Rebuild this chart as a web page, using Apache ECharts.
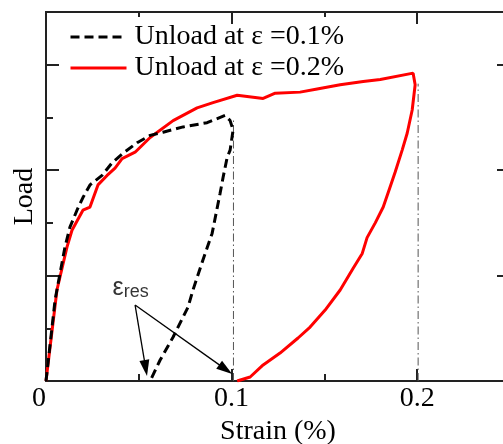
<!DOCTYPE html>
<html><head><meta charset="utf-8">
<script src="https://cdn.jsdelivr.net/npm/echarts@6/dist/echarts.min.js"></script>
<style>html,body{margin:0;padding:0;background:#fff}#c{width:503px;height:444px}</style>
</head><body><div id="c"></div>
<script>
// ---- data ----
const seriesNames = ['Unload at \u03b5 =0.1%', 'Unload at \u03b5 =0.2%'];
const strain01 = [0, 0.0049, 0.0102, 0.0129, 0.0167, 0.0199, 0.0237, 0.0302, 0.0356, 0.0415, 0.0491, 0.0561, 0.0631, 0.0739, 0.0868, 0.0965, 0.0992, 0.1008,
                  0.0992, 0.0976, 0.0954, 0.0938, 0.0895, 0.0846, 0.0792, 0.0765, 0.0685, 0.0615, 0.0561];
const load01   = [0, 0.77, 1.27, 1.46, 1.62, 1.74, 1.86, 1.95, 2.07, 2.16, 2.26, 2.33, 2.36, 2.41, 2.45, 2.52, 2.47, 2.38,
                  2.19, 2.12, 1.93, 1.78, 1.40, 1.15, 0.863, 0.70, 0.417, 0.199, 0.0];
const strain02 = [0, 0.0059, 0.0113, 0.0140, 0.0199, 0.0237, 0.0280, 0.0329, 0.0372, 0.0410, 0.0480, 0.0561, 0.0685, 0.0814, 0.0900, 0.1030, 0.1170, 0.1235, 0.1369, 0.1461, 0.1585, 0.1709, 0.1801, 0.1978,
                  0.1989, 0.1973, 0.1946, 0.1919, 0.1881, 0.1854, 0.1817, 0.1774, 0.1730, 0.1704, 0.1655, 0.1585, 0.1504, 0.1423, 0.1358, 0.1261, 0.1170, 0.1100, 0.1030];
const load02   = [0, 0.863, 1.27, 1.43, 1.62, 1.65, 1.86, 1.95, 2.02, 2.11, 2.17, 2.31, 2.47, 2.59, 2.64, 2.71, 2.68, 2.73, 2.74, 2.77, 2.81, 2.84, 2.86, 2.92,
                  2.81, 2.57, 2.35, 2.19, 1.98, 1.84, 1.65, 1.50, 1.36, 1.21, 1.07, 0.863, 0.673, 0.512, 0.408, 0.265, 0.152, 0.038, 0];
const xTickLabels = ['0', '0.1', '0.2'];
const guideStrain = [0.101, 0.2005];
const guideTop = [2.49, 2.82];
const annotText = ['\u03b5', 'res'];
const annotPos = [0.0456, 0.88];
const arrowStart = [0.048, 0.72];
const arrowEnds = [[0.0537, 0.123], [0.0968, 0.110]];

// ---- chart ----
const SERIF = 'Liberation Serif';
const FS = 28;
const AX = '#222';
const zip = (a, b) => a.map((v, i) => [v, b[i]]);

function xAx(pos, interval, len, labels) {
  return {
    type: 'value', position: pos, min: 0, max: 0.25, interval: interval,
    axisLine: { show: labels !== undefined, onZero: false, lineStyle: { color: AX, width: 2 } },
    axisTick: { show: true, inside: true, length: len, lineStyle: { color: AX, width: 2 } },
    axisLabel: labels ? {
      show: true, margin: 4, color: '#000', fontFamily: SERIF, fontSize: FS,
      formatter: v => { const s = String(+(+v).toFixed(3)); return xTickLabels.includes(s) ? (s === '0' ? '{z|0}' : s) : ''; },
      rich: { z: { fontFamily: SERIF, fontSize: FS, color: '#000', padding: [0, 14, 0, 0] } }
    } : { show: false },
    splitLine: { show: false }
  };
}
function yAx(pos, interval, len) {
  return {
    type: 'value', position: pos, min: 0, max: 3.5, interval: interval,
    axisLine: { show: true, onZero: false, lineStyle: { color: AX, width: 2 } },
    axisTick: { show: true, inside: true, length: len, lineStyle: { color: AX, width: 2 } },
    axisLabel: { show: false }, splitLine: { show: false }
  };
}

const xAxes = [xAx('bottom', 0.05, 7, true), xAx('bottom', 0.1, 12), xAx('top', 0.05, 5, true), xAx('top', 0.1, 12)];
xAxes[2].axisLabel = { show: false };
xAxes[0].name = 'Strain (%)';
xAxes[0].nameLocation = 'middle';
xAxes[0].nameGap = 35;
xAxes[0].nameTextStyle = { fontFamily: SERIF, fontSize: FS, color: '#000' };
const yAxes = [yAx('left', 0.5, 7), yAx('left', 1, 13), yAx('right', 0.5, 7), yAx('right', 1, 13)];
yAxes[0].name = 'Load';
yAxes[0].nameLocation = 'middle';
yAxes[0].nameGap = 7;
yAxes[0].nameRotate = 90;
yAxes[0].nameTextStyle = { fontFamily: SERIF, fontSize: FS, color: '#000' };

const guideSeries = guideStrain.map((x, i) => ({
  type: 'line', name: 'guide' + i, silent: true, symbol: 'none', z: 1,
  data: [[x, 0], [x, guideTop[i]]],
  lineStyle: { color: '#555', width: 1, type: [8, 3, 1.5, 3] }
}));

const option = {
  animation: false,
  backgroundColor: '#fff',
  grid: { left: 46, top: 12, width: 464, height: 369, containLabel: false, outerBoundsMode: 'none' },
  legend: {
    data: seriesNames, orient: 'vertical', left: 64, top: 18,
    itemWidth: 56, itemHeight: 14, itemGap: 3, selectedMode: false,
    itemStyle: { opacity: 0 },
    lineStyle: { width: 3 },
    textStyle: { fontFamily: SERIF, fontSize: FS, color: '#000', lineHeight: 28, padding: [0, 0, 0, 3] }
  },
  xAxis: xAxes,
  yAxis: yAxes,
  series: [
    ...guideSeries,
    {
      type: 'line', name: seriesNames[0], symbol: 'none', z: 3,
      data: zip(strain01, load01),
      lineStyle: { color: '#000', width: 3, type: [9, 5] }, itemStyle: { color: '#000' }
    },
    {
      type: 'line', name: seriesNames[1], symbol: 'none', z: 2,
      data: zip(strain02, load02),
      lineStyle: { color: '#ff0000', width: 3 }, itemStyle: { color: '#ff0000' }
    },
    {
      type: 'scatter', name: 'annot', silent: true, symbolSize: 1,
      itemStyle: { color: 'rgba(0,0,0,0)' },
      data: [annotPos],
      label: {
        show: true, position: 'inside',
        formatter: '{e|' + annotText[0] + '}{r|' + annotText[1] + '}',
        rich: {
          e: { fontFamily: 'Liberation Sans', fontSize: 25, color: '#000' },
          r: { fontFamily: 'Liberation Sans', fontSize: 18, color: '#000', padding: [8, 0, 0, 0] }
        }
      },
      markLine: {
        silent: true, animation: false,
        label: { show: false },
        lineStyle: { color: '#000', width: 1.3, type: 'solid' },
        symbol: ['none', 'triangle'],
        data: arrowEnds.map(e => [
          { coord: arrowStart, symbol: 'none' },
          { coord: e, symbol: 'triangle', symbolSize: [10, 16] }
        ])
      }
    }
  ]
};
const chart = echarts.init(document.getElementById('c'), null, { renderer: 'canvas' });
chart.setOption(option);
</script>
</body></html>
